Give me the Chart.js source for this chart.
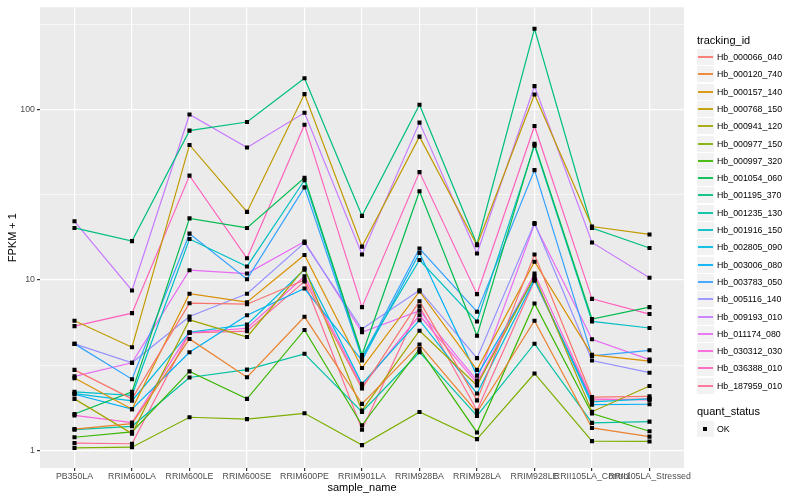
<!DOCTYPE html>
<html>
<head>
<meta charset="utf-8">
<script src="https://cdn.jsdelivr.net/npm/chart.js@4.4.1/dist/chart.umd.min.js"></script>
<style>
  html, body { margin: 0; padding: 0; background: #fff; }
  #wrap { position: relative; width: 800px; height: 500px; font-family: "Liberation Sans", Arial, sans-serif; }
  #chart { position: absolute; left: 0; top: 0; }
  .lg-title { position: absolute; left: 697px; font-size: 11px; color: #000; white-space: nowrap; }
  .lg-item { position: absolute; left: 697px; height: 17px; white-space: nowrap; }
  .lg-key { position: absolute; left: 0; top: 0; width: 17px; height: 16px; background: #F2F2F2; }
  .lg-line { position: absolute; left: 1px; right: 1px; top: 7px; height: 2px; opacity: 0.9; }
  .lg-dot { position: absolute; left: 6px; top: 6px; width: 4px; height: 4px; background: #000; }
  .lg-text { position: absolute; left: 20px; top: 1px; font-size: 8.8px; line-height: 14px; color: #000; }
</style>
</head>
<body>
<div id="wrap">
  <canvas id="chart" width="800" height="500"></canvas>
  <div id="legend"></div>
</div>
<script>
(function () {
  'use strict';

  // samples on the x axis
  var categories = ['PB350LA', 'RRIM600LA', 'RRIM600LE', 'RRIM600SE', 'RRIM600PE', 'RRIM901LA',
    'RRIM928BA', 'RRIM928LA', 'RRIM928LE', 'RRII105LA_Control', 'RRII105LA_Stressed'];

  // FPKM + 1 per gene, in the order of categories
  var hb000066_040 = [2.96, 2.0, 7.3, 7.2, 10.0, 2.3, 7.5, 1.96, 14.1, 2.05, 2.07];
  var hb000120_740 = [1.33, 1.43, 4.5, 2.68, 6.07, 1.87, 4.17, 1.67, 5.76, 1.35, 1.2];
  var hb000157_140 = [2.65, 1.74, 8.3, 7.4, 14.0, 3.04, 8.55, 2.96, 12.8, 3.63, 3.33];
  var hb000768_150 = [5.76, 4.02, 62.1, 25.1, 123.6, 15.7, 69.5, 16.0, 123, 20.6, 18.5];
  var hb000941_120 = [2.0, 1.25, 5.83, 4.62, 11.7, 1.71, 5.03, 2.4, 10.5, 1.68, 2.38];
  var hb000977_150 = [1.03, 1.04, 1.56, 1.52, 1.645, 1.07, 1.675, 1.16, 2.82, 1.13, 1.124];
  var hb000997_320 = [1.19, 1.28, 2.9, 2.0, 5.08, 1.4, 3.93, 1.27, 7.27, 1.64, 1.29];
  var hb001054_060 = [1.63, 2.2, 23.0, 20.2, 39.8, 3.62, 33.2, 4.7, 63, 5.89, 6.92];
  var hb001195_370 = [20.2, 16.9, 75.4, 84.7, 153, 23.8, 107, 16.2, 299, 20.2, 15.4];
  var hb001235_130 = [1.32, 1.38, 2.67, 2.97, 3.68, 1.675, 3.76, 1.59, 4.22, 1.445, 1.47];
  var hb001916_150 = [2.2, 2.1, 17.4, 12.0, 38.5, 3.55, 13.1, 5.7, 61.5, 5.7, 5.22];
  var hb002805_090 = [2.15, 1.95, 4.93, 5.46, 11.5, 2.45, 5.8, 2.15, 10.0, 1.92, 2.0];
  var hb003006_080 = [2.13, 1.74, 3.76, 6.2, 8.9, 3.36, 14.4, 2.74, 10.2, 1.85, 1.86];
  var hb003783_050 = [4.21, 2.61, 18.7, 10.1, 35, 3.47, 15.3, 6.5, 44.2, 3.58, 3.86];
  var hb005116_140 = [4.21, 3.26, 6.1, 8.3, 16.5, 5.15, 8.7, 3.47, 21.6, 3.36, 2.85];
  var hb009193_010 = [22.1, 8.67, 93.8, 60, 96, 14.1, 84, 14.3, 137.6, 16.6, 10.3];
  var hb011174_080 = [2.71, 3.26, 11.4, 10.9, 16.8, 4.93, 6.6, 2.56, 21.3, 4.48, 3.4];
  var hb030312_030 = [1.6, 1.45, 4.9, 5.2, 10.5, 2.37, 6.2, 2.47, 10.9, 2.0, 1.97];
  var hb036388_010 = [5.35, 6.38, 41, 13.4, 81.7, 6.92, 43, 8.25, 80.3, 7.74, 6.3];
  var hb187959_010 = [1.10, 1.09, 4.88, 5.0, 9.8, 1.32, 7.0, 1.71, 9.9, 1.97, 2.0];

  var trackingIds = ['Hb_000066_040', 'Hb_000120_740', 'Hb_000157_140', 'Hb_000768_150',
    'Hb_000941_120', 'Hb_000977_150', 'Hb_000997_320', 'Hb_001054_060', 'Hb_001195_370',
    'Hb_001235_130', 'Hb_001916_150', 'Hb_002805_090', 'Hb_003006_080', 'Hb_003783_050',
    'Hb_005116_140', 'Hb_009193_010', 'Hb_011174_080', 'Hb_030312_030', 'Hb_036388_010',
    'Hb_187959_010'];
  var seriesValues = [hb000066_040, hb000120_740, hb000157_140, hb000768_150, hb000941_120,
    hb000977_150, hb000997_320, hb001054_060, hb001195_370, hb001235_130, hb001916_150,
    hb002805_090, hb003006_080, hb003783_050, hb005116_140, hb009193_010, hb011174_080,
    hb030312_030, hb036388_010, hb187959_010];

  var yTickValues = [1, 10, 100];
  var yMinorValues = [3.1623, 31.623, 316.23];

  // ggplot default hue palette for 20 levels
  var colors = ['#F8766D', '#EA8331', '#D89000', '#C09B00', '#A3A500', '#7CAE00', '#39B600',
    '#00BB4E', '#00BF7D', '#00C1A3', '#00BFC4', '#00BAE0', '#00B0F6', '#35A2FF', '#9590FF',
    '#C77CFF', '#E76BF3', '#FA62DB', '#FF62BC', '#FF6C91'];

  var datasets = [];
  var allPoints = [];
  seriesValues.forEach(function (vals, s) {
    var pts = vals.map(function (v, i) { return { x: i, y: v }; });
    allPoints = allPoints.concat(pts);
    datasets.push({
      type: 'line',
      label: trackingIds[s],
      data: pts,
      borderColor: colors[s],
      borderWidth: 1.2,
      pointRadius: 0,
      tension: 0,
      fill: false,
      order: 1
    });
  });
  datasets.push({
    type: 'scatter',
    label: 'OK',
    data: allPoints,
    pointStyle: 'rect',
    pointRadius: 2.9,
    backgroundColor: '#000',
    borderWidth: 0,
    order: 0
  });

  var panelBg = {
    id: 'panelBg',
    beforeDraw: function (chart) {
      var a = chart.chartArea, ctx = chart.ctx;
      ctx.save();
      ctx.fillStyle = '#EBEBEB';
      ctx.fillRect(a.left, a.top, a.right - a.left, a.bottom - a.top);
      ctx.restore();
    }
  };

  function isMajor(v) {
    return yTickValues.some(function (t) { return Math.abs(t - v) < 1e-6; });
  }

  var tickFont = { family: '"Liberation Sans", Arial, sans-serif', size: 8.8 };
  var titleFont = { family: '"Liberation Sans", Arial, sans-serif', size: 11 };

  new Chart(document.getElementById('chart').getContext('2d'), {
    data: { datasets: datasets },
    plugins: [panelBg],
    options: {
      responsive: false,
      animation: false,
      layout: { padding: { left: 0, top: 5, right: 116, bottom: 0 } },
      plugins: { legend: { display: false }, tooltip: { enabled: false } },
      scales: {
        x: {
          type: 'linear',
          min: -0.6,
          max: categories.length - 1 + 0.6,
          afterBuildTicks: function (scale) {
            scale.ticks = categories.map(function (c, i) { return { value: i }; });
          },
          afterFit: function (scale) { scale.height = 32; },
          border: { display: false },
          grid: { color: '#FFFFFF', lineWidth: 1.2, drawTicks: true, tickLength: 3, tickColor: '#333333' },
          ticks: {
            autoSkip: false,
            maxRotation: 0,
            minRotation: 0,
            padding: 0,
            color: '#4D4D4D',
            font: tickFont,
            callback: function (v) { return categories[v]; }
          },
          title: { display: true, text: 'sample_name', color: '#000', font: titleFont, padding: { top: 0, bottom: 5.5 } }
        },
        y: {
          type: 'logarithmic',
          min: 0.785,
          max: 400,
          afterBuildTicks: function (scale) {
            scale.ticks = yTickValues.concat(yMinorValues).sort(function (a, b) { return a - b; })
              .map(function (v) { return { value: v }; });
          },
          afterFit: function (scale) { scale.width = 40; },
          border: { display: false },
          grid: {
            color: '#FFFFFF',
            lineWidth: function (ctx) { return isMajor(ctx.tick.value) ? 1.2 : 0.6; },
            drawTicks: true,
            tickLength: 3,
            tickColor: function (ctx) { return isMajor(ctx.tick.value) ? '#333333' : 'rgba(0,0,0,0)'; }
          },
          ticks: {
            padding: 2,
            color: '#4D4D4D',
            font: tickFont,
            callback: function (v) { return isMajor(v) ? String(v) : ''; }
          },
          title: { display: true, text: 'FPKM + 1', color: '#000', font: titleFont, padding: { top: 6, bottom: 0 } }
        }
      }
    }
  });

  // ggplot-style legend on the right
  var lg = document.getElementById('legend');
  var html = '<div class="lg-title" style="top:34px">tracking_id</div>';
  trackingIds.forEach(function (id, s) {
    var top = Math.round(49 + s * 17.3);
    html += '<div class="lg-item" style="top:' + top + 'px">' +
      '<div class="lg-key"><div class="lg-line" style="background:' + colors[s] + '"></div></div>' +
      '<div class="lg-text">' + id + '</div></div>';
  });
  html += '<div class="lg-title" style="top:405px">quant_status</div>';
  html += '<div class="lg-item" style="top:421px"><div class="lg-key"><div class="lg-dot"></div></div>' +
    '<div class="lg-text">OK</div></div>';
  lg.innerHTML = html;
})();
</script>
</body>
</html>
